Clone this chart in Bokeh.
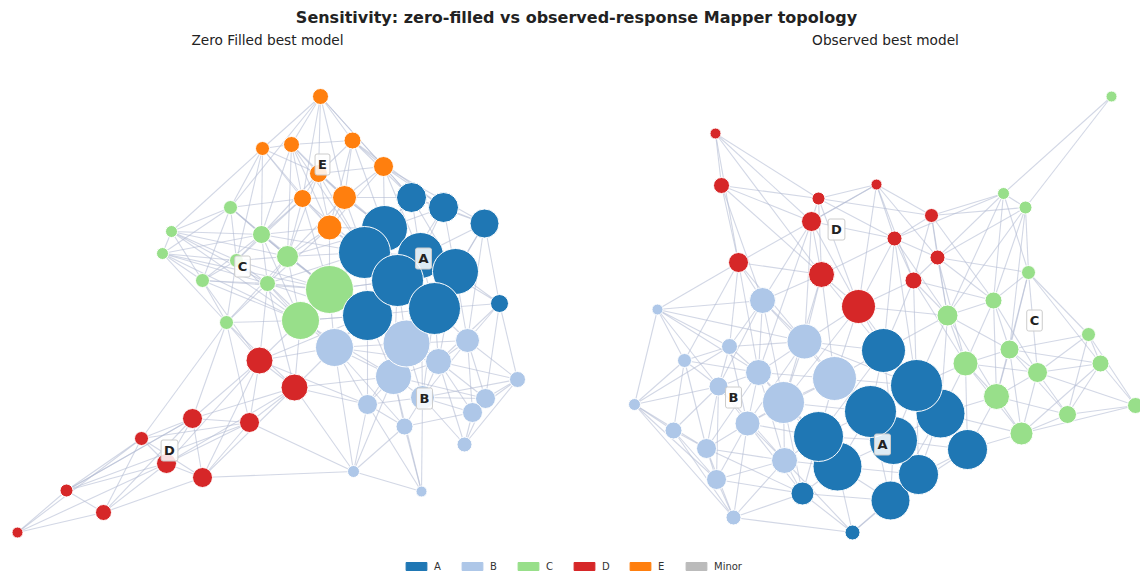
from bokeh.plotting import figure
from bokeh.models import Range1d, ColumnDataSource, Legend, LegendItem
from bokeh.core.properties import value
from bokeh.embed import file_html
from bokeh.resources import INLINE

TITLE = "Sensitivity: zero-filled vs observed-response Mapper topology"
PANEL_TITLES = ["Zero Filled best model", "Observed best model"]
CATEGORIES = ["A", "B", "C", "D", "E", "Minor"]
CAT_COLORS = ["#1f77b4", "#aec7e8", "#98df8a", "#d62728", "#ff7f0e", "#bbbbbb"]

# ---------------- Zero-filled panel (layout coordinates) ----------------
zf_x = [320, 262, 291, 352, 383, 318, 302, 344, 329,
        411, 443, 484, 384, 364, 420, 455, 397, 434, 367, 499,
        230, 171, 162, 236, 261, 287, 202, 267, 329, 300, 226,
        259, 294, 249, 192, 141, 166, 202, 66, 103, 17,
        334, 406, 438, 467, 393, 422, 367, 517, 485, 472, 404, 464, 353, 421]
zf_y = [96, 148, 144, 140, 166, 173, 198, 197, 227,
        197, 207, 223, 228, 252, 255, 271, 280, 308, 315, 303,
        207, 231, 253, 260, 234, 256, 280, 283, 289, 320, 322,
        360, 387, 422, 418, 438, 463, 477, 490, 512, 532,
        347, 343, 361, 340, 376, 397, 404, 379, 398, 412, 426, 444, 471, 491]
zf_size = [16, 14, 16, 17, 20, 18, 18, 24, 25,
           30, 30, 29, 46, 52, 46, 46, 52, 52, 50, 18,
           14, 12, 12, 14, 18, 22, 14, 16, 48, 38, 14,
           27, 27, 20, 20, 14, 20, 20, 13, 16, 11,
           38, 47, 26, 24, 36, 24, 20, 16, 20, 20, 17, 15, 12, 11]
zf_group = ["E"] * 9 + ["A"] * 11 + ["C"] * 11 + ["D"] * 10 + ["B"] * 14
zf_adj = {
    0: [1, 2, 3, 4, 5, 6, 7, 20, 9], 1: [2, 5, 6, 20, 24, 8, 23, 21], 2: [3, 5, 6, 7, 8, 24, 25, 13],
    3: [4, 5, 7, 9, 12, 8, 10], 4: [5, 7, 8, 9, 10, 12, 11, 14], 5: [6, 7, 8, 24, 25, 13, 12],
    6: [7, 8, 20, 24, 25, 23, 28, 13], 7: [8, 9, 12, 13, 25, 14], 8: [12, 13, 25, 28, 24, 27, 16],
    9: [10, 12, 14, 11, 13, 15], 10: [11, 12, 14, 15, 16], 11: [14, 15, 19, 17, 44],
    12: [13, 14, 16, 25, 28, 15], 13: [14, 16, 18, 28, 25, 29, 24, 27], 14: [15, 16, 17, 19, 46, 42],
    15: [16, 17, 19, 44, 42, 43], 16: [17, 18, 28, 42, 41, 45], 17: [18, 19, 42, 43, 44, 45, 46],
    18: [28, 29, 41, 42, 45, 31, 47], 19: [44, 48, 43, 49],
    20: [21, 22, 23, 24, 26, 25, 28], 21: [22, 23, 24, 26, 27, 29, 25], 22: [23, 26, 27, 30, 29, 28, 24],
    23: [24, 25, 26, 27, 28, 29, 30], 24: [25, 27, 28, 26, 29], 25: [27, 28, 29, 30, 18],
    26: [27, 30, 29, 31, 28], 27: [28, 29, 30, 31, 41, 32, 18], 28: [29, 41, 42, 18, 16],
    29: [30, 31, 32, 41, 45, 18], 30: [31, 32, 34, 35, 33],
    31: [32, 33, 34, 36, 41, 47, 37], 32: [33, 34, 36, 37, 41, 45, 47, 53],
    33: [34, 35, 36, 37, 53, 38], 34: [35, 36, 37, 38, 39], 35: [36, 38, 39, 40, 37],
    36: [37, 38, 39, 40], 37: [39, 53], 38: [39, 40, 34], 39: [40],
    41: [42, 45, 47, 43, 53, 51], 42: [43, 44, 45, 46, 47], 43: [44, 45, 46, 48, 49, 50, 52],
    44: [46, 48, 49, 50], 45: [46, 47, 51, 53, 49, 54], 46: [47, 49, 50, 51, 52, 54, 48],
    47: [51, 53, 54], 48: [49, 50, 52], 49: [50, 52], 50: [51, 52], 51: [53, 54], 53: [54],
}
zf_label_text = ["E", "A", "C", "D", "B"]
zf_label_x = [322, 423, 242, 169, 424]
zf_label_y = [164, 258, 266, 450, 398]

# ---------------- Observed panel (layout coordinates) ----------------
ob_x = [715, 721, 818, 811, 876, 931, 894, 937, 913, 738, 821, 858,
        1111, 1003, 1025, 1028, 993, 947, 1088, 1009, 965, 1100, 1037, 996, 1135, 1067, 1021,
        657, 762, 804, 834, 729, 684, 758, 718, 783, 634, 747, 673, 706, 784, 716, 733,
        883, 916, 870, 940, 893, 967, 918, 890, 818, 837, 802, 852]
ob_y = [133, 185, 198, 221, 184, 215, 238, 257, 280, 262, 274, 306,
        96, 193, 207, 272, 300, 315, 334, 349, 363, 363, 372, 396, 405, 414, 433,
        309, 300, 341, 378, 346, 360, 372, 386, 402, 404, 423, 430, 448, 460, 479, 517,
        350, 385, 411, 413, 440, 449, 474, 500, 436, 466, 493, 532]
ob_size = [11, 16, 13, 20, 11, 14, 15, 15, 17, 20, 26, 34,
           11, 12, 13, 14, 17, 21, 14, 19, 25, 17, 20, 26, 16, 18, 23,
           11, 26, 35, 44, 16, 14, 26, 19, 42, 12, 25, 17, 20, 26, 20, 15,
           44, 52, 52, 49, 48, 40, 40, 39, 50, 49, 23, 15]
ob_group = ["D"] * 12 + ["C"] * 15 + ["B"] * 16 + ["A"] * 12
ob_adj = {
    0: [1, 3, 9, 2, 10], 1: [2, 3, 9, 10, 28], 2: [3, 4, 5, 6, 10, 11],
    3: [9, 10, 11, 6, 28, 29, 4, 33], 4: [5, 6, 7, 8, 11, 3], 5: [6, 7, 8, 17, 16, 13, 14],
    6: [7, 8, 11, 10, 17, 43, 13, 44], 7: [8, 17, 16, 15, 20, 14, 13], 8: [11, 17, 20, 43, 44, 16],
    9: [10, 28, 27, 31, 32, 29, 33], 10: [11, 28, 29, 30, 43, 35], 11: [29, 30, 43, 44, 17, 35],
    12: [13, 14], 13: [14, 15, 16, 17], 14: [15, 16, 17, 19],
    15: [16, 19, 21, 22, 18, 23], 16: [17, 19, 20, 22, 23], 17: [20, 19, 43, 44, 46, 23],
    18: [19, 21, 22, 24, 25], 19: [20, 22, 23, 26, 21, 25], 20: [22, 23, 46, 48, 44, 26],
    21: [22, 24, 25, 26], 22: [23, 25, 26, 24], 23: [25, 26, 48, 46], 24: [25, 26],
    25: [26], 26: [48, 46],
    27: [28, 29, 31, 32, 34, 36, 33], 28: [29, 30, 31, 33, 35, 34], 29: [30, 33, 35, 43, 44, 31, 37],
    30: [35, 43, 44, 45, 51, 33, 37, 47], 31: [32, 33, 34, 36, 37], 32: [34, 36, 38, 33, 39],
    33: [34, 35, 37, 39, 51, 40], 34: [36, 37, 38, 39, 41, 40], 35: [37, 40, 51, 45, 52, 53],
    36: [38, 39, 41, 42], 37: [39, 40, 41, 42, 53, 51], 38: [39, 41, 42], 39: [40, 41, 42, 53],
    40: [41, 42, 53, 52, 51, 54], 41: [42, 53], 42: [53, 54],
    43: [44, 45, 46, 47, 51], 44: [45, 46, 47, 48, 49], 45: [47, 51, 52, 49, 50], 46: [47, 48, 49, 50],
    47: [48, 49, 50, 52, 51], 48: [49, 50], 49: [50, 54, 52], 50: [52, 53, 54],
    51: [52, 53], 52: [53, 54], 53: [54],
}
ob_label_text = ["D", "C", "B", "A"]
ob_label_x = [836, 1034, 733, 882]
ob_label_y = [229, 320, 397, 444]

FONT_NAME = "DejaVu Sans"
FONT = value(FONT_NAME)
color_of = dict(zip(CATEGORIES, CAT_COLORS))

W, H = 1140, 575
p = figure(width=W, height=H, output_backend="svg", toolbar_location=None,
           x_range=Range1d(0, W), y_range=Range1d(H, 0),
           x_axis_type=None, y_axis_type=None, min_border=0)
p.grid.visible = False
p.outline_line_color = None
p.background_fill_color = "white"
p.border_fill_color = "white"


def draw_panel(xs, ys, sizes, groups, adj, lt, lx, ly):
    x0, y0, x1, y1 = [], [], [], []
    for i, nbrs in adj.items():
        for j in nbrs:
            x0.append(xs[i]); y0.append(ys[i]); x1.append(xs[j]); y1.append(ys[j])
    p.segment(x0=x0, y0=y0, x1=x1, y1=y1, line_color="#b4bdd4", line_alpha=0.6, line_width=1.1)
    order = sorted(range(len(xs)), key=lambda k: sizes[k])
    src = ColumnDataSource(dict(
        x=[xs[k] for k in order], y=[ys[k] for k in order],
        s=[sizes[k] for k in order], c=[color_of[groups[k]] for k in order]))
    p.scatter("x", "y", size="s", fill_color="c", line_color="white", line_width=1, source=src)
    p.text(x=lx, y=ly, text=lt, text_align="center", text_baseline="middle",
           text_font=FONT, text_font_style="bold", text_font_size="13px", text_color="#222222",
           background_fill_color="white", background_fill_alpha=0.85,
           border_line_color="#cccccc", border_line_width=1, padding=3, border_radius=2)


draw_panel(zf_x, zf_y, zf_size, zf_group, zf_adj, zf_label_text, zf_label_x, zf_label_y)
draw_panel(ob_x, ob_y, ob_size, ob_group, ob_adj, ob_label_text, ob_label_x, ob_label_y)

p.text(x=[576], y=[17], text=[TITLE], text_align="center", text_baseline="middle",
       text_font=FONT, text_font_style="bold", text_font_size="16px", text_color="#222222")
p.text(x=[267, 885], y=[39, 39], text=PANEL_TITLES, text_align="center", text_baseline="middle",
       text_font=FONT, text_font_size="13.7px", text_color="#222222")

nan = float("nan")
items = []
for cat, col in zip(CATEGORIES, CAT_COLORS):
    r = p.rect(x=[nan], y=[nan], width=1, height=1, fill_color=col, line_color=col)
    items.append(LegendItem(label=cat, renderers=[r]))
legend = Legend(items=items, orientation="horizontal", location=(403, 3),
                glyph_width=26, glyph_height=10, label_standoff=5, spacing=5,
                label_height=12, label_width=20,
                label_text_font=FONT_NAME, label_text_font_size="10px", label_text_color="#333333",
                padding=0, margin=0, border_line_alpha=0, background_fill_alpha=0)
p.add_layout(legend)

open("out.html", "w").write(file_html(p, INLINE))
